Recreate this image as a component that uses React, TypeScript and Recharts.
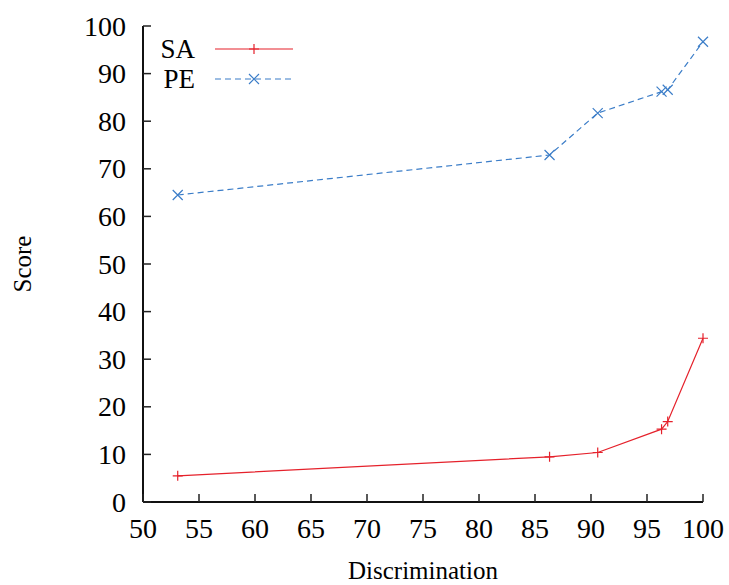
import React from 'react';
import { LineChart, Line, XAxis, YAxis } from 'recharts';

const discrimination = [53.1, 86.3, 90.6, 96.3, 96.85, 100];
const saScores = [5.5, 9.5, 10.4, 15.3, 16.9, 34.4];
const peScores = [64.5, 72.9, 81.7, 86.2, 86.6, 96.7];
const xTicks = [50, 55, 60, 65, 70, 75, 80, 85, 90, 95, 100];
const yTicks = [0, 10, 20, 30, 40, 50, 60, 70, 80, 90, 100];

const data = discrimination.map((d, i) => ({ d, sa: saScores[i], pe: peScores[i] }));

const FONT = '"Liberation Serif", "Times New Roman", serif';
const SA_COLOR = '#e5212b';
const PE_COLOR = '#3b7dc8';
const TICK = 8;
const MARGIN = 10;

const Plus = ({ cx, cy }: any) => (
  <path d={`M${cx - 5},${cy}H${cx + 5}M${cx},${cy - 5}V${cy + 5}`} stroke={SA_COLOR} strokeWidth={1.2} fill="none" />
);
const Cross = ({ cx, cy }: any) => (
  <path d={`M${cx - 5},${cy - 5}L${cx + 5},${cy + 5}M${cx - 5},${cy + 5}L${cx + 5},${cy - 5}`} stroke={PE_COLOR} strokeWidth={1.2} fill="none" />
);

const BottomTick = ({ x, y, payload }: any) => {
  const axisY = y - MARGIN;
  return (
    <g>
      <line x1={x} x2={x} y1={axisY} y2={axisY - TICK} stroke="#222" strokeWidth={1.5} />
      <text x={x} y={axisY + 36} textAnchor="middle" fontFamily={FONT} fontSize={28} fill="#000">{payload.value}</text>
    </g>
  );
};
const TopTick = ({ x, y }: any) => (
  <line x1={x} x2={x} y1={y} y2={y + TICK} stroke="#222" strokeWidth={1.5} />
);
const LeftTick = ({ x, y, payload }: any) => {
  const axisX = x + MARGIN;
  return (
    <g>
      <line x1={axisX} x2={axisX + TICK} y1={y} y2={y} stroke="#222" strokeWidth={1.5} />
      <text x={axisX - 17} y={y + 9.5} textAnchor="end" fontFamily={FONT} fontSize={28} fill="#000">{payload.value}</text>
    </g>
  );
};
const RightTick = ({ x, y }: any) => (
  <line x1={x} x2={x - TICK} y1={y} y2={y} stroke="#222" strokeWidth={1.5} />
);

const XTitle = ({ viewBox }: any) => (
  <text x={viewBox.x + viewBox.width / 2} y={viewBox.y + 77} textAnchor="middle" fontFamily={FONT} fontSize={25} fill="#000">Discrimination</text>
);
const YTitle = () => (
  <text x={22} y={264} transform="rotate(-90, 22, 264)" textAnchor="middle" dominantBaseline="central" fontFamily={FONT} fontSize={25} fill="#000">Score</text>
);

function ChartLegend() {
  return (
    <svg width={300} height={100} style={{ position: 'absolute', left: 130, top: 10 }}>
      <text x={65} y={48} textAnchor="end" fontFamily={FONT} fontSize={27}>SA</text>
      <line x1={85} x2={163} y1={39} y2={39} stroke={SA_COLOR} strokeWidth={1.2} />
      <Plus cx={124} cy={39} />
      <text x={65} y={78} textAnchor="end" fontFamily={FONT} fontSize={27}>PE</text>
      <line x1={85} x2={163} y1={69} y2={69} stroke={PE_COLOR} strokeWidth={1.2} strokeDasharray="6 4" />
      <Cross cx={124} cy={69} />
    </svg>
  );
}

export default function App() {
  return (
    <div style={{ position: 'absolute', left: 0, top: 0, width: 729, height: 585, background: '#fff' }}>
      <LineChart width={729} height={585} data={data} margin={{ top: 26, right: 26, bottom: 33, left: 83 }}>
        <XAxis xAxisId="b" dataKey="d" type="number" domain={[50, 100]} ticks={xTicks} interval={0}
          height={50} tickSize={0} tickMargin={MARGIN} tickLine={false} tick={<BottomTick />}
          axisLine={{ stroke: '#111', strokeWidth: 2 }} label={<XTitle />} />
        <XAxis xAxisId="t" dataKey="d" type="number" orientation="top" domain={[50, 100]} ticks={xTicks} interval={0}
          height={0} tickSize={0} tickMargin={0} tickLine={false} tick={<TopTick />}
          axisLine={{ stroke: '#111', strokeWidth: 2 }} />
        <YAxis yAxisId="l" type="number" domain={[0, 100]} ticks={yTicks} interval={0}
          width={60} tickSize={0} tickMargin={MARGIN} tickLine={false} tick={<LeftTick />}
          axisLine={{ stroke: '#111', strokeWidth: 2 }} label={<YTitle />} />
        <YAxis yAxisId="r" type="number" orientation="right" domain={[0, 100]} ticks={yTicks} interval={0}
          width={0} tickSize={0} tickMargin={0} tickLine={false} tick={<RightTick />}
          axisLine={{ stroke: '#111', strokeWidth: 2 }} />
        <Line xAxisId="b" yAxisId="l" dataKey="sa" stroke={SA_COLOR} strokeWidth={1.2} dot={<Plus />} activeDot={false} isAnimationActive={false} />
        <Line xAxisId="b" yAxisId="l" dataKey="pe" stroke={PE_COLOR} strokeWidth={1.2} strokeDasharray="6 4" dot={<Cross />} activeDot={false} isAnimationActive={false} />
      </LineChart>
      <ChartLegend />
    </div>
  );
}
